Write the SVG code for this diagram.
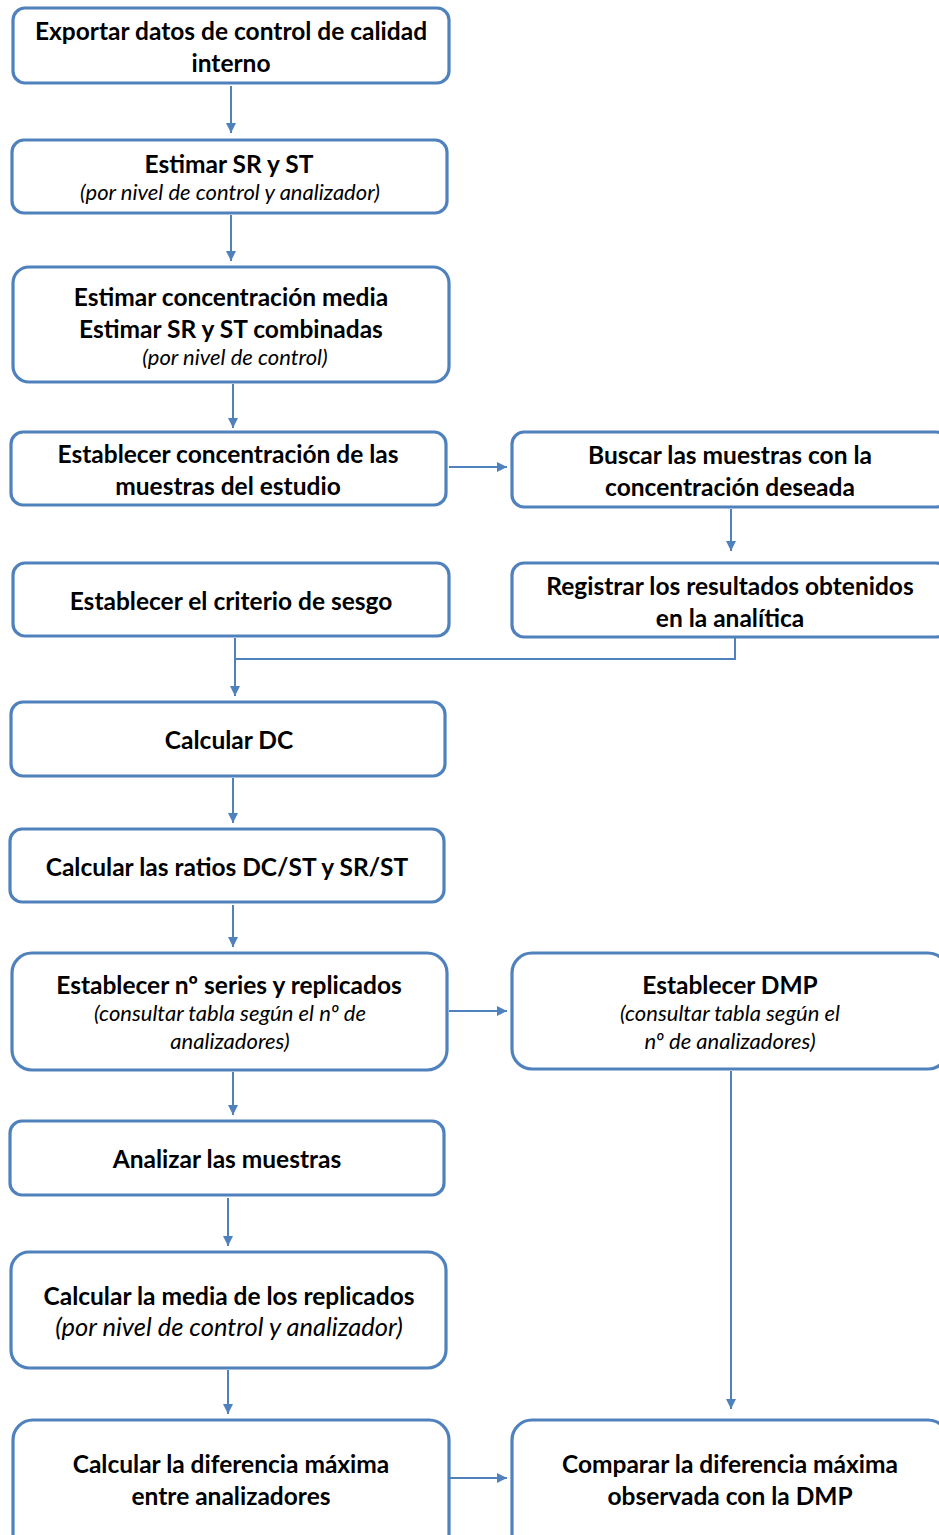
<svg xmlns="http://www.w3.org/2000/svg" width="939" height="1535" viewBox="0 0 939 1535">
<defs>
<style>
.box{fill:#fff;stroke:#4f81bd;stroke-width:3.2}
.c{fill:none;stroke:#4f81bd;stroke-width:2}
.t{font-family:Lato,"Liberation Sans",sans-serif;font-weight:bold;font-size:24.5px;fill:#000;text-anchor:middle}
.i{font-family:Lato,"Liberation Sans",sans-serif;font-style:italic;font-size:22px;fill:#000;text-anchor:middle}
</style>
<marker id="ah" markerUnits="userSpaceOnUse" markerWidth="12" markerHeight="12" viewBox="0 0 12 12" refX="10" refY="6" orient="auto">
<path d="M0,1 L10,6 L0,11 Z" fill="#4f81bd"/>
</marker>
</defs>
<rect width="939" height="1535" fill="#fff"/>
<g id="connectors">
<path class="c" d="M231,86 V133" marker-end="url(#ah)"/>
<path class="c" d="M231,215 V261" marker-end="url(#ah)"/>
<path class="c" d="M233,384 V428" marker-end="url(#ah)"/>
<path class="c" d="M449,467 H507" marker-end="url(#ah)"/>
<path class="c" d="M731,509 V551" marker-end="url(#ah)"/>
<path class="c" d="M235,638 V696" marker-end="url(#ah)"/>
<path class="c" d="M735,638 V659 H235"/>
<path class="c" d="M233,778 V823" marker-end="url(#ah)"/>
<path class="c" d="M233,905 V947" marker-end="url(#ah)"/>
<path class="c" d="M449,1011 H507" marker-end="url(#ah)"/>
<path class="c" d="M233,1072 V1115" marker-end="url(#ah)"/>
<path class="c" d="M731,1071 V1409" marker-end="url(#ah)"/>
<path class="c" d="M228,1198 V1246" marker-end="url(#ah)"/>
<path class="c" d="M228,1370 V1414" marker-end="url(#ah)"/>
<path class="c" d="M449,1478 H507" marker-end="url(#ah)"/>
</g>
<g id="n1"><rect class="box" x="13" y="8" width="436" height="75" rx="12"/>
<text class="t" x="231" y="40">Exportar datos de control de calidad</text>
<text class="t" x="231" y="72">interno</text></g>
<g id="n2"><rect class="box" x="12" y="140" width="435" height="73" rx="12"/>
<text class="t" x="229" y="173">Estimar SR y ST</text>
<text class="i" x="230" y="200">(por nivel de control y analizador)</text></g>
<g id="n3"><rect class="box" x="13" y="267" width="436" height="115" rx="16"/>
<text class="t" x="231" y="306">Estimar concentración media</text>
<text class="t" x="231" y="338">Estimar SR y ST combinadas</text>
<text class="i" x="235" y="365">(por nivel de control)</text></g>
<g id="n4"><rect class="box" x="11" y="432" width="435" height="73" rx="12"/>
<text class="t" x="228" y="463">Establecer concentración de las</text>
<text class="t" x="228" y="495">muestras del estudio</text></g>
<g id="n5"><rect class="box" x="512" y="432" width="436" height="75" rx="12"/>
<text class="t" x="730" y="464">Buscar las muestras con la</text>
<text class="t" x="730" y="496">concentración deseada</text></g>
<g id="n6"><rect class="box" x="512" y="563" width="436" height="74" rx="12"/>
<text class="t" x="730" y="595">Registrar los resultados obtenidos</text>
<text class="t" x="730" y="627">en la analítica</text></g>
<g id="n7"><rect class="box" x="13" y="563" width="436" height="73" rx="12"/>
<text class="t" x="231" y="610">Establecer el criterio de sesgo</text></g>
<g id="n8"><rect class="box" x="11" y="702" width="434" height="74" rx="12"/>
<text class="t" x="229" y="749">Calcular DC</text></g>
<g id="n9"><rect class="box" x="10" y="829" width="434" height="73" rx="12"/>
<text class="t" x="227" y="876">Calcular las ratios DC/ST y SR/ST</text></g>
<g id="n10"><rect class="box" x="12" y="953" width="435" height="117" rx="20"/>
<text class="t" x="229" y="994">Establecer nº series y replicados</text>
<text class="i" x="230" y="1021">(consultar tabla según el nº de</text>
<text class="i" x="230" y="1049">analizadores)</text></g>
<g id="n11"><rect class="box" x="512" y="953" width="436" height="116" rx="20"/>
<text class="t" x="730" y="994">Establecer DMP</text>
<text class="i" x="730" y="1021">(consultar tabla según el</text>
<text class="i" x="730" y="1049">nº de analizadores)</text></g>
<g id="n12"><rect class="box" x="10" y="1121" width="434" height="74" rx="12"/>
<text class="t" x="227" y="1168">Analizar las muestras</text></g>
<g id="n13"><rect class="box" x="11" y="1252" width="435" height="116" rx="18"/>
<text class="t" x="229" y="1305">Calcular la media de los replicados</text>
<text class="i" x="229" y="1336" style="font-size:25.5px">(por nivel de control y analizador)</text></g>
<g id="n14"><rect class="box" x="13" y="1420" width="436" height="140" rx="20"/>
<text class="t" x="231" y="1473">Calcular la diferencia máxima</text>
<text class="t" x="231" y="1505">entre analizadores</text></g>
<g id="n15"><rect class="box" x="512" y="1420" width="436" height="140" rx="20"/>
<text class="t" x="730" y="1473">Comparar la diferencia máxima</text>
<text class="t" x="730" y="1505">observada con la DMP</text></g>
</svg>
